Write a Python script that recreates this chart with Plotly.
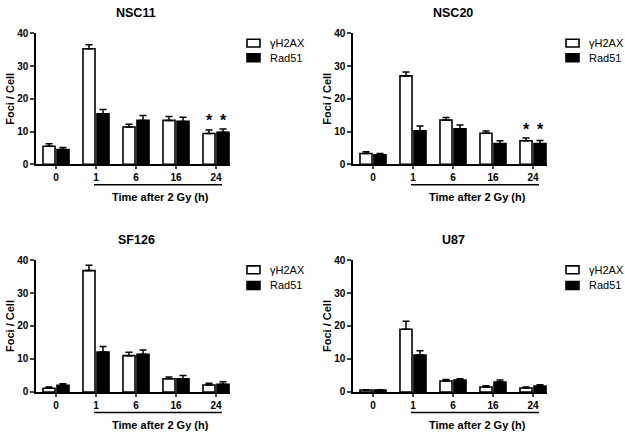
import plotly.graph_objects as go

times = ["0", "1", "6", "16", "24"]

nsc11_h2ax = [5.5, 35.3, 11.4, 13.4, 9.4]
nsc11_h2ax_err = [0.8, 1.2, 0.8, 1.2, 1.1]
nsc11_rad51 = [4.5, 15.4, 13.4, 13.1, 9.8]
nsc11_rad51_err = [0.6, 1.3, 1.5, 1.3, 1.0]

nsc20_h2ax = [3.3, 27.0, 13.5, 9.5, 7.2]
nsc20_h2ax_err = [0.5, 1.2, 0.8, 0.7, 0.8]
nsc20_rad51 = [2.9, 10.2, 10.8, 6.3, 6.3]
nsc20_rad51_err = [0.4, 1.5, 1.2, 0.9, 1.0]

sf126_h2ax = [1.1, 36.8, 11.0, 4.0, 2.1]
sf126_h2ax_err = [0.4, 1.6, 1.0, 0.5, 0.5]
sf126_rad51 = [2.0, 12.1, 11.4, 4.0, 2.3]
sf126_rad51_err = [0.5, 1.7, 1.3, 1.0, 0.8]

u87_h2ax = [0.6, 19.0, 3.3, 1.5, 1.2]
u87_h2ax_err = [0.1, 2.4, 0.5, 0.4, 0.3]
u87_rad51 = [0.6, 11.2, 3.6, 3.0, 1.8]
u87_rad51_err = [0.1, 1.3, 0.4, 0.6, 0.4]

series_names = ["γH2AX", "Rad51"]
series_fill = ["white", "black"]

panels = [
    ("NSC11", nsc11_h2ax, nsc11_h2ax_err, nsc11_rad51, nsc11_rad51_err, True),
    ("NSC20", nsc20_h2ax, nsc20_h2ax_err, nsc20_rad51, nsc20_rad51_err, True),
    ("SF126", sf126_h2ax, sf126_h2ax_err, sf126_rad51, sf126_rad51_err, False),
    ("U87", u87_h2ax, u87_h2ax_err, u87_rad51, u87_rad51_err, False),
]

W, H = 625, 437
FONT = "Liberation Sans, Arial, sans-serif"
BARGAP = 0.3
GROUPGAP = 0.14


def px(x):
    return x / W


def py(y):
    return 1 - y / H


# pixel-based layout (left / right columns, top / bottom rows)
xdom = [(px(36), px(230)), (px(353), px(547))]
ydom = [(py(163), py(29)), (py(396), py(261))]
legend_box_x = [247, 566]
legend_rows = [(39, 54), (271, 287)]

fig = go.Figure()
xpos = list(range(len(times)))

layout = dict(
    width=W, height=H, margin=dict(l=0, r=0, t=0, b=0),
    paper_bgcolor="white", plot_bgcolor="white",
    barmode="group", bargap=BARGAP, bargroupgap=GROUPGAP,
    font=dict(family=FONT, color="black"),
    showlegend=False,
)
annotations = []
shapes = []

for i, (name, h2, h2e, r5, r5e, stars) in enumerate(panels):
    col, row = i % 2, i // 2
    k = "" if i == 0 else str(i + 1)
    xa, ya = "x" + k, "y" + k
    for vals, errs, sname, fill in ((h2, h2e, series_names[0], series_fill[0]),
                                    (r5, r5e, series_names[1], series_fill[1])):
        fig.add_trace(go.Bar(
            x=xpos, y=vals, name=sname, xaxis=xa, yaxis=ya,
            marker=dict(color=fill, line=dict(color="black", width=1.6)),
            error_y=dict(type="data", array=errs, arrayminus=[0] * len(errs), symmetric=False,
                         color="black", thickness=1.5, width=3.5),
        ))
    layout["xaxis" + k] = dict(
        domain=list(xdom[col]), anchor=ya, range=[-0.5, 4.35],
        tickvals=xpos, ticktext=times, ticks="outside", ticklen=3, tickwidth=1.5,
        showline=True, linecolor="black", linewidth=1.5, showgrid=False, zeroline=False,
        tickfont=dict(size=10, family=FONT, weight="bold"), fixedrange=True,
    )
    layout["yaxis" + k] = dict(
        domain=list(ydom[row]), anchor=xa, range=[0, 40],
        tickvals=[0, 10, 20, 30, 40], ticks="outside", ticklen=4, tickwidth=1.5,
        showline=True, linecolor="black", linewidth=1.5, showgrid=False, zeroline=False,
        tickfont=dict(size=10, family=FONT, weight="bold"), fixedrange=True,
    )
    yd = ydom[row]
    # panel title
    annotations.append(dict(
        text="<b>%s</b>" % name, xref=xa, yref="paper", x=2.0, y=yd[1] + 21 / H,
        showarrow=False, font=dict(size=12.5, family=FONT), xanchor="center", yanchor="middle",
    ))
    # y axis title
    annotations.append(dict(
        text="<b>Foci / Cell</b>", xref="paper", yref="paper",
        x=xdom[col][0] - 26 / W, y=(yd[0] + yd[1]) / 2, textangle=-90,
        showarrow=False, font=dict(size=11, family=FONT), xanchor="center", yanchor="middle",
    ))
    # bracket line under irradiated time points
    shapes.append(dict(
        type="line", xref=xa, yref="paper", x0=0.95, x1=4.15,
        y0=yd[0] - 21 / H, y1=yd[0] - 21 / H, line=dict(color="black", width=1.5),
    ))
    annotations.append(dict(
        text="<b>Time after 2 Gy (h)</b>", xref=xa, yref="paper", x=2.6, y=yd[0] - 34 / H,
        showarrow=False, font=dict(size=11, family=FONT), xanchor="center", yanchor="middle",
    ))
    # legend (drawn per panel)
    bx = legend_box_x[col]
    for ry, sname, fill in zip(legend_rows[row], series_names, series_fill):
        shapes.append(dict(
            type="rect", xref="paper", yref="paper",
            x0=px(bx), x1=px(bx + 13), y0=py(ry + 4), y1=py(ry - 4),
            fillcolor=fill, line=dict(color="black", width=1.6),
        ))
        annotations.append(dict(
            text=sname, xref="paper", yref="paper", x=px(bx + 21), y=py(ry),
            showarrow=False, font=dict(size=11, family=FONT), xanchor="left", yanchor="middle",
        ))
    if stars:
        slot = (1 - BARGAP) / 2
        last = len(times) - 1
        top = max(h2[last] + h2e[last], r5[last] + r5e[last])
        for off in (-slot / 2, slot / 2):
            annotations.append(dict(
                text="<b>*</b>", xref=xa, yref=ya, x=last + off, y=top,
                showarrow=False, font=dict(size=16, family=FONT), xanchor="center",
                yanchor="bottom", yshift=-2,
            ))

layout["annotations"] = annotations
layout["shapes"] = shapes
fig.update_layout(**layout)
fig.write_html("out.html", config={"displayModeBar": False},
               post_script="document.body.style.margin='0';")
